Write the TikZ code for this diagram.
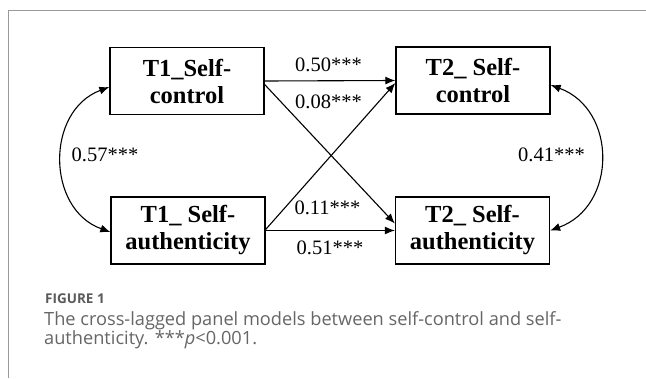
\documentclass[tikz,border=0pt]{standalone}
\usepackage{fontspec}
\setmainfont{Liberation Serif}
\newfontfamily\capfont{Open Sans}
\usetikzlibrary{arrows.meta}
\definecolor{framegray}{HTML}{9A9A9A}
\definecolor{capgray}{HTML}{666666}
\definecolor{figgray}{HTML}{5A5A5A}
\begin{document}
\begin{tikzpicture}[x=1pt,y=-1pt,
  box/.style={draw, line width=1.3pt, minimum width=154pt, minimum height=67pt, inner sep=0pt, align=center, font=\fontsize{24.5}{27}\selectfont\bfseries},
  lab/.style={font=\fontsize{20.5}{24}\selectfont, inner sep=0pt},
  arr/.style={line width=1.1pt, -{Latex[length=10pt,width=8pt]}},
  darr/.style={line width=1.1pt, {Latex[length=10pt,width=8pt]}-{Latex[length=10pt,width=8pt]}},
  captext/.style={anchor=base west, inner sep=0pt, font=\capfont\fontsize{18.2}{20}\selectfont, text=capgray}]
\useasboundingbox (0,0) rectangle (646,378);
\fill[white] (0,0) rectangle (646,378);
\draw[framegray, line width=1pt] (8,378) -- (8,10) -- (646,10);

\node[box] (t1c) at (187,81) {T1\_Self-\\control};
\node[box] (t1a) at (188,230.5) {T1\_ Self-\\authenticity};
\node[box] (t2c) at (473,80.5) {T2\_ Self-\\control};
\node[box] (t2a) at (472.5,230.5) {T2\_ Self-\\authenticity};

\draw[arr] (t1c.east) -- (t2c.west);
\draw[arr] ([yshift=-3.5pt]t1c.east) -- ([yshift=7pt]t2a.west);
\draw[arr] ([yshift=1pt]t1a.east) -- ([yshift=-2.5pt]t2c.west);
\draw[arr] (t1a.east) -- (t2a.west);

\draw[darr] ([yshift=-6pt]t1c.west) to[bend right=70, looseness=1.2] ([yshift=-1.5pt]t1a.west);
\draw[darr] ([yshift=-4.5pt]t2c.east) to[bend left=70, looseness=1.25] (t2a.east);

\node[lab] (l50) at (328.5,65) {0.50***};
\node[lab] (l08) at (328.5,102) {0.08***};
\node[lab] (l11) at (327.5,208) {0.11***};
\node[lab] (l51) at (330,248) {0.51***};
\node[lab] (l57) at (105,155) {0.57***};
\node[lab] (l41) at (551.5,155) {0.41***};

\node[captext, font=\capfont\bfseries\fontsize{13.5}{15}\selectfont, text=figgray] (fig) at (45,303) {FIGURE 1};
\node[captext] (cap1) at (44,325) {The cross-lagged panel models between self-control and self-};
\node[captext] (cap2) at (44,344.5) {authenticity. ***\textit{p}<0.001.};
\end{tikzpicture}
\end{document}
